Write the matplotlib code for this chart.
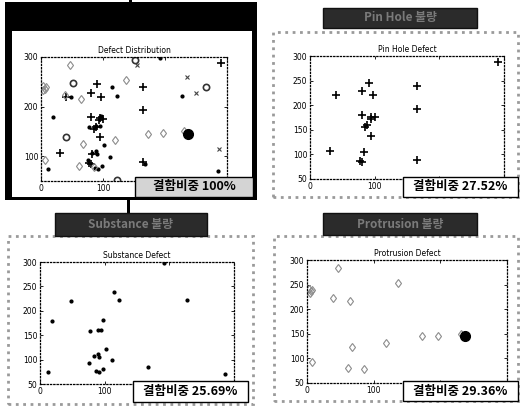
import matplotlib
matplotlib.use('Agg')
import matplotlib.pyplot as plt
from matplotlib.patches import Rectangle

# defect coordinates
pinhole_x = [291, 91, 165, 80, 40, 97, 165, 80, 95, 100, 94, 88, 85, 95, 31, 83, 77, 80, 165]
pinhole_y = [288, 245, 240, 228, 220, 220, 193, 180, 177, 176, 172, 159, 155, 138, 107, 105, 87, 85, 89]

substance_x = [192, 114, 122, 48, 227, 19, 97, 77, 89, 95, 102, 83, 89, 91, 111, 75, 98, 87, 92, 12, 167, 286]
substance_y = [298, 239, 222, 220, 222, 179, 181, 159, 161, 161, 122, 107, 111, 105, 99, 93, 81, 77, 75, 75, 85, 70]

protrusion_x = [46, 3, 6, 8, 4, 137, 39, 64, 119, 173, 196, 231, 67, 7, 61, 85]
protrusion_y = [284, 242, 236, 240, 233, 253, 223, 216, 132, 145, 146, 150, 124, 93, 80, 78]
protrusion_cluster_x = [237]
protrusion_cluster_y = [145]

other_o_x = [51, 152, 266, 123, 41]
other_o_y = [248, 294, 240, 52, 139]
other_x_x = [155, 236, 250, 287]
other_x_y = [283, 259, 228, 114]

titles = ['Defect Distribution', 'Pin Hole Defect', 'Substance Defect', 'Protrusion Defect']
headers = [None, 'Pin Hole 불량', 'Substance 불량', 'Protrusion 불량']
ratios = ['결함비중 100%', '결함비중 27.52%', '결함비중 25.69%', '결함비중 29.36%']

W, H = 522, 408
KR = ['Noto Sans CJK KR', 'DejaVu Sans']


def rect(l, t, r, b):
    return [l / W, 1 - b / H, (r - l) / W, (b - t) / H]


def box(l, t, r, b, **kw):
    x, y, w, h = rect(l, t, r, b)
    p = Rectangle((x, y), w, h, transform=fig.transFigure, **kw)
    fig.add_artist(p)
    return p


fig = plt.figure(figsize=(W / 100, H / 100), dpi=100)

# panel frames: (outer box, axes box, header box, ratio box)
panels = [
    ((5, 2, 257, 200), (41, 57, 227, 181), None, (135, 177, 253, 197)),
    ((273, 32, 518, 197), (310, 56, 504, 179), (323, 8, 477, 28), (403, 177, 518, 197)),
    ((8, 236, 253, 404), (40, 262, 234, 384), (55, 213, 207, 236), (133, 381, 248, 402)),
    ((274, 236, 518, 401), (307, 260, 507, 383), (323, 213, 477, 235), (403, 381, 518, 401)),
]

# first panel: heavy black frame with black header
box(5, 2, 257, 200, facecolor='black', edgecolor='none', zorder=-2)
box(12, 31, 252, 197, facecolor='white', edgecolor='none', zorder=-1)
# connector lines
box(129, 0, 132, 3, facecolor='black', edgecolor='none', zorder=-1)
box(127, 200, 130, 213, facecolor='black', edgecolor='none', zorder=-1)

axes = []
for i, (outer, ax_box, head, rbox) in enumerate(panels):
    if i > 0:
        box(*outer, facecolor='white', edgecolor='#9a9a9a', linestyle=':', linewidth=2, zorder=-1)
    if head is not None:
        box(*head, facecolor='#2b2b2b', edgecolor='#111111', linewidth=1, zorder=2)
        l, t, r, b = head
        fig.text((l + r) / 2 / W, 1 - (t + b) / 2 / H, headers[i], ha='center', va='center',
                 color='#7a7a7a', fontsize=8.5, fontweight='bold', family=KR, zorder=3)

    ax = fig.add_axes(rect(*ax_box))
    ax.set_xlim(0, 300)
    ax.set_ylim(50, 300)
    # 200/300 labels sit under the ratio box in the original
    ax.set_xticks([0, 100, 200, 300])
    ax.set_xticklabels(['0', '100', '', ''])
    if i == 0:
        ax.set_yticks([100, 200, 300])
    else:
        ax.set_yticks([50, 100, 150, 200, 250, 300])
    ax.tick_params(direction='in', length=2, width=0.6, labelsize=5.5, pad=2,
                   top=True, right=True)
    for s in ax.spines.values():
        s.set_linestyle(':')
        s.set_linewidth(0.9)
    ax.set_title(titles[i], fontsize=5.5, pad=3)
    axes.append(ax)

    # ratio box
    l, t, r, b = rbox
    fc = '#d4d4d4' if i == 0 else 'white'
    box(l, t, r, b, facecolor=fc, edgecolor='black', linewidth=1, zorder=4)
    fig.text((l + r) / 2 / W, 1 - (t + b) / 2 / H, ratios[i], ha='center', va='center',
             fontsize=9, fontweight='bold', family=KR, zorder=5)

pin_style = dict(ls='none', marker='+', color='black', ms=6, mew=1.2)
sub_style = dict(ls='none', marker='.', color='black', ms=4)
pro_style = dict(ls='none', marker='d', mfc='none', mec='#8c8c8c', ms=4.5, mew=0.8)
big_style = dict(ls='none', marker='o', color='black', ms=7)

# overall distribution
a0 = axes[0]
a0.plot(pinhole_x, pinhole_y, **pin_style)
a0.plot(substance_x, substance_y, **sub_style)
a0.plot(protrusion_x, protrusion_y, **pro_style)
a0.plot(protrusion_cluster_x, protrusion_cluster_y, **big_style)
a0.plot(other_o_x, other_o_y, ls='none', marker='o', mfc='none', mec='#333333', ms=4.5, mew=1.2)
a0.plot(other_x_x, other_x_y, ls='none', marker='x', color='#444444', ms=3, mew=0.8)

axes[1].plot(pinhole_x, pinhole_y, **pin_style)
axes[2].plot(substance_x, substance_y, **sub_style)
axes[3].plot(protrusion_x, protrusion_y, **pro_style)
axes[3].plot(protrusion_cluster_x, protrusion_cluster_y, **big_style)

fig.savefig('out.png', dpi=100)
